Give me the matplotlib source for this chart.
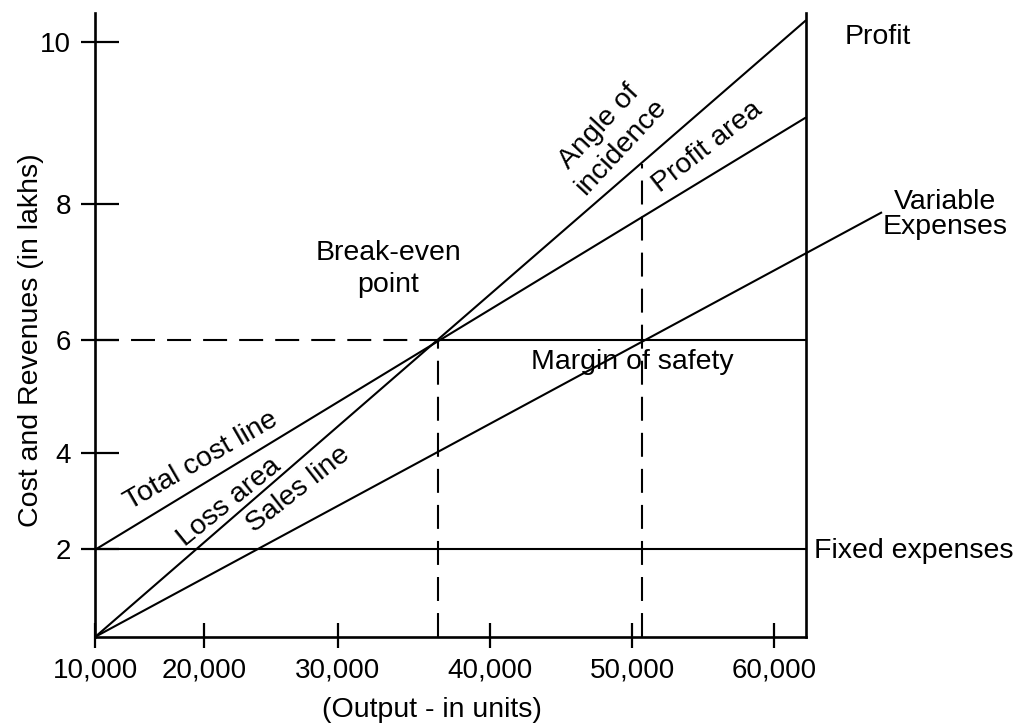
import numpy as np
import matplotlib.pyplot as plt

plt.rcParams["font.family"] = ["Liberation Sans", "DejaVu Sans"]

# --- data ----------------------------------------------------------------
x_tick_values = [10000, 20000, 30000, 40000, 50000, 60000]
x_tick_labels = ["10,000", "20,000", "30,000", "40,000", "50,000", "60,000"]
y_tick_values = [2, 4, 6, 8, 10]
y_tick_labels = ["2", "4", "6", "8", "10"]

start_units = 10000
max_units = 62250
fixed_cost = 2.0
break_even_units = 36600
break_even_value = 6.0
actual_units = 50700
actual_sales = 8.5
sales_end = 10.27          # sales at max_units
total_cost_end = 9.07      # total cost at max_units
variable_end_units = 67600
variable_end = 7.88

# The original axes are hand drawn: tick spacing is not uniform, so the
# scale is piecewise linear through the drawn tick positions.
x_scale_vals = [0, 10000, 20000, 30000, 40000, 50000, 60000, 80000]
x_scale_pos = [-13.0, 95.5, 204.0, 338.0, 490.0, 632.0, 774.0, 1058.0]
y_scale_vals = [-2, 0, 2, 4, 6, 8, 10, 12]
y_scale_pos = [-87.2, 0.0, 87.2, 183.7, 296.7, 432.7, 594.7, 756.7]


def x_fwd(v):
    return np.interp(v, x_scale_vals, x_scale_pos)


def x_inv(p):
    return np.interp(p, x_scale_pos, x_scale_vals)


def y_fwd(v):
    return np.interp(v, y_scale_vals, y_scale_pos)


def y_inv(p):
    return np.interp(p, y_scale_pos, y_scale_vals)


fig = plt.figure(figsize=(10.19, 7.23), dpi=100)
ax = fig.add_axes([0.0937, 0.1194, 0.6973, 0.8627])
ax.set_xscale("function", functions=(x_fwd, x_inv))
ax.set_yscale("function", functions=(y_fwd, y_inv))
ax.set_xlim(start_units, max_units)
ax.set_ylim(0, 10.36)

lw = 1.5
dash = (0, (11.5, 5.8))
kw = dict(color="black", lw=lw, solid_capstyle="butt")

# sales, total cost, variable expenses, fixed expenses
ax.plot([start_units, max_units], [0, sales_end], **kw)
ax.plot([start_units, max_units], [fixed_cost, total_cost_end], **kw)
ax.plot([start_units, variable_end_units], [0, variable_end], clip_on=False, **kw)
ax.plot([start_units, max_units], [fixed_cost, fixed_cost], **kw)

# break-even level
ax.plot([start_units, break_even_units], [break_even_value] * 2, ls=dash, **kw)
ax.plot([break_even_units, max_units], [break_even_value] * 2, **kw)
ax.plot([break_even_units] * 2, [0, break_even_value], ls=dash, **kw)
# actual sales (margin of safety)
ax.plot([actual_units] * 2, [0, actual_sales], ls=dash, **kw)

# axes frame
ax.spines["top"].set_visible(False)
for s in ["left", "bottom", "right"]:
    ax.spines[s].set_linewidth(1.9)

ax.set_xticks(x_tick_values, x_tick_labels)
ax.set_xticks(x_tick_values, minor=True)
ax.set_yticks(y_tick_values, y_tick_labels)
ax.set_yticks(y_tick_values, minor=True)
ax.xaxis.remove_overlapping_locs = False
ax.yaxis.remove_overlapping_locs = False
ax.tick_params(axis="x", which="major", direction="in", length=10, width=1.6,
               pad=15, labelsize=20)
ax.tick_params(axis="x", which="minor", direction="out", length=8, width=1.6)
ax.tick_params(axis="y", which="major", direction="in", length=17.3, width=1.6,
               pad=17.5, labelsize=20)
ax.tick_params(axis="y", which="minor", direction="out", length=10, width=1.6)

ax.set_xlabel("(Output - in units)", fontsize=20.5)
ax.xaxis.set_label_coords(0.4736, -0.097)
ax.set_ylabel("Cost and Revenues (in lakhs)", fontsize=20.5)
ax.yaxis.set_label_coords(-0.0725, 0.4757)

# annotations
fs = 20.5
ax.text(65000, 10.06, "Profit", fontsize=fs, ha="left", va="center")
ax.text(72040, 7.84, "Variable\nExpenses", fontsize=fs, ha="center",
        va="center", linespacing=0.95)
ax.text(62820, 1.805, "Fixed expenses", fontsize=fs, ha="left", va="baseline")
ax.text(33290, 7.05, "Break-even\npoint", fontsize=fs, ha="center",
        va="center", linespacing=1.3)
ax.text(50000, 5.49, "Margin of safety", fontsize=fs, ha="center", va="baseline")
ax.text(48450, 8.83, "Angle of\nincidence", fontsize=fs, ha="center",
        va="center", rotation=47, rotation_mode="anchor", linespacing=1.15)
ax.text(55280, 8.70, "Profit area", fontsize=fs, ha="center", va="center",
        rotation=38, rotation_mode="anchor")
ax.text(19720, 3.83, "Total cost line", fontsize=fs, ha="center", va="center",
        rotation=30, rotation_mode="anchor")
ax.text(21870, 2.98, "Loss area", fontsize=fs, ha="center", va="center",
        rotation=39, rotation_mode="anchor")
ax.text(27010, 3.25, "Sales line", fontsize=fs, ha="center", va="center",
        rotation=38, rotation_mode="anchor")

fig.savefig("out.png", dpi=100)
